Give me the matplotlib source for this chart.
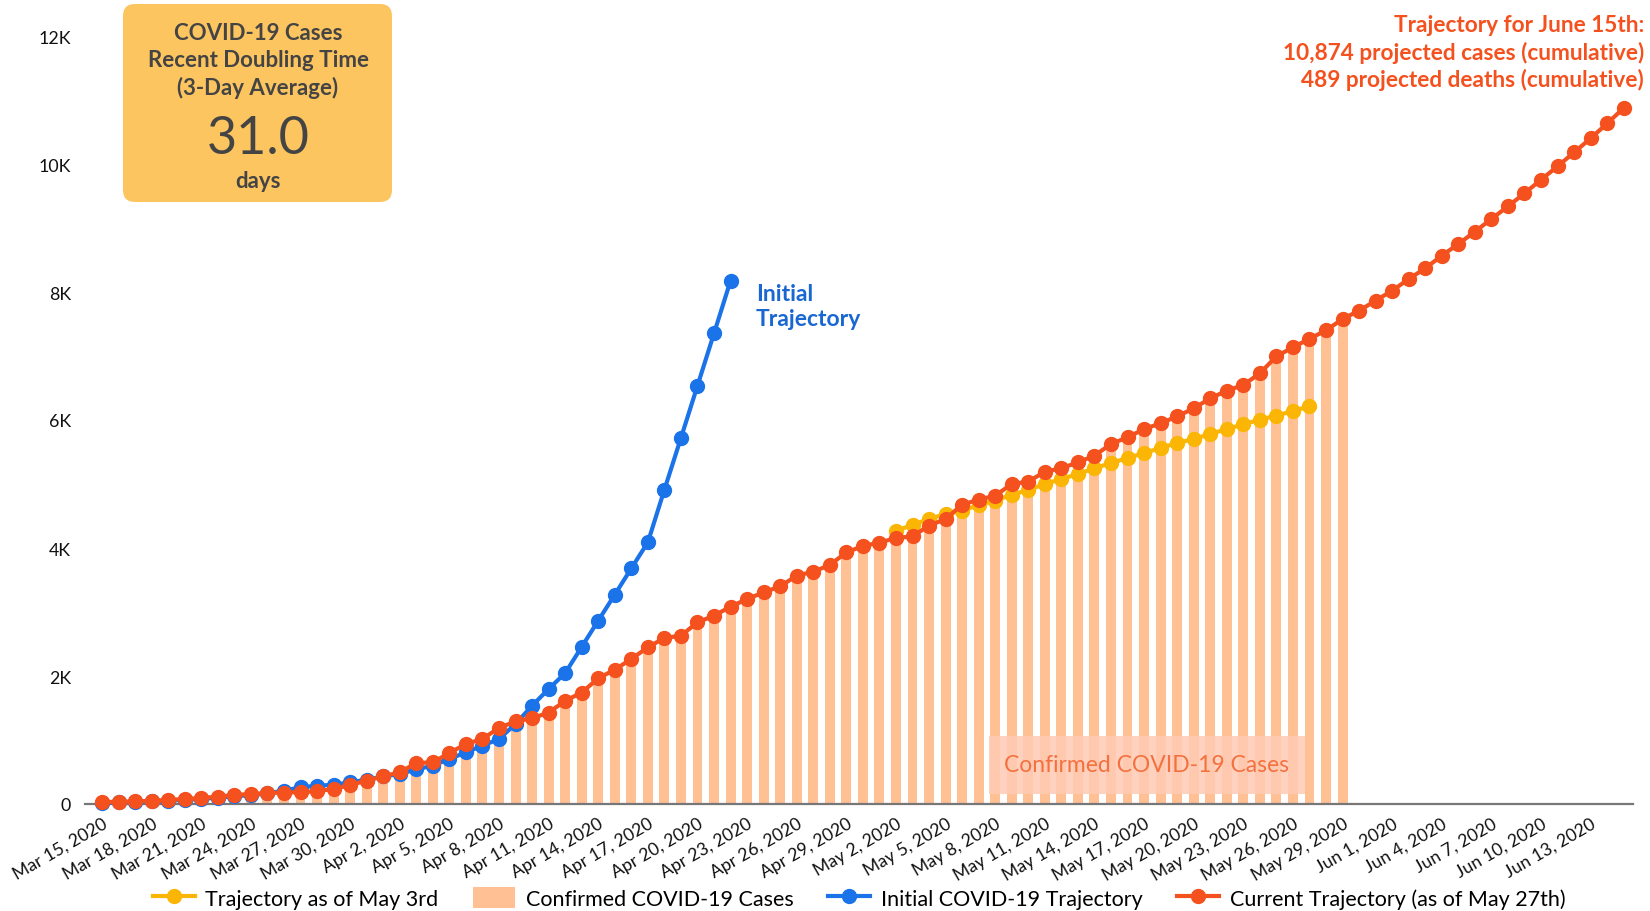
import matplotlib
matplotlib.use("Agg")
import matplotlib.pyplot as plt
from matplotlib.patches import FancyBboxPatch, Patch, Rectangle
from matplotlib.lines import Line2D
import pandas as pd

plt.rcParams['font.family'] = ['Lato', 'DejaVu Sans']

# ---------------- data ----------------
start_date = "2020-03-15"

current_traj = [30, 35, 40, 50, 63, 78, 94, 115, 141, 156,
                172, 178, 185, 200, 234, 297, 365, 432, 495, 641,
                651, 797, 938, 1016, 1190, 1290, 1340, 1428, 1612, 1742,
                1964, 2099, 2266, 2448, 2594, 2630, 2839, 2943, 3083, 3203,
                3307, 3401, 3568, 3630, 3734, 3932, 4030, 4085, 4156, 4182,
                4349, 4453, 4677, 4755, 4818, 5000, 5036, 5193, 5245, 5339,
                5443, 5625, 5729, 5859, 5948, 6057, 6182, 6339, 6458, 6547,
                6729, 6995, 7135, 7270, 7400, 7578, 7708, 7865, 8021, 8203,
                8370, 8568, 8750, 8943, 9141, 9339, 9542, 9755, 9964, 10182,
                10401, 10635, 10874]

confirmed = [30, 35, 40, 50, 63, 78, 94, 115, 141, 156,
             172, 178, 185, 200, 234, 297, 365, 432, 495, 641,
             651, 797, 938, 1016, 1190, 1290, 1340, 1428, 1612, 1742,
             1964, 2099, 2266, 2448, 2594, 2630, 2839, 2943, 3083, 3203,
             3307, 3401, 3568, 3630, 3734, 3932, 4030, 4085, 4156, 4182,
             4349, 4453, 4677, 4755, 4818, 5000, 5036, 5193, 5245, 5339,
             5443, 5625, 5729, 5859, 5948, 6057, 6182, 6339, 6458, 6547,
             6729, 6995, 7135, 7270, 7400, 7578]

initial_traj = [20, 25, 32, 42, 52, 65, 80, 98, 120, 140,
                165, 210, 260, 286, 300, 339, 380, 430, 469, 540,
                600, 703, 807, 911, 1016, 1250, 1536, 1797, 2045, 2455,
                2865, 3271, 3682, 4089, 4911, 5719, 6536, 7354, 8177]

may3_start = "2020-05-02"
may3_traj = [4271, 4359, 4453, 4531, 4583, 4672, 4740, 4833, 4906, 5000,
             5078, 5156, 5245, 5328, 5406, 5484, 5563, 5641, 5703, 5781,
             5859, 5932, 6005, 6068, 6141, 6214]

y_ticks = [0, 2000, 4000, 6000, 8000, 10000, 12000]
y_tick_labels = ["0", "2K", "4K", "6K", "8K", "10K", "12K"]

box_lines = ["COVID-19 Cases", "Recent Doubling Time", "(3-Day Average)"]
box_value = "31.0"
box_unit = "days"

note_lines = ["Trajectory for June 15th:",
              "10,874 projected cases (cumulative)",
              "489 projected deaths (cumulative)"]

legend_labels = ["Trajectory as of May 3rd", "Confirmed COVID-19 Cases",
                 "Initial COVID-19 Trajectory", "Current Trajectory (as of May 27th)"]

# ---------------- colours ----------------
C_ORANGE = "#F4511E"
C_BLUE = "#1A73E8"
C_YELLOW = "#FBB605"
C_BAR = "#FFC093"
C_BOX = "#FDC55F"
C_TEXT = "#444444"

W, H = 1650, 912
fig = plt.figure(figsize=(W / 100, H / 100), dpi=100)


def fx(x):
    return x / W


def fy(y):
    return 1 - y / H


ax = fig.add_axes([fx(85), fy(805), fx(1633) - fx(85), fy(37) - fy(805)])

d_cur = pd.date_range(start_date, periods=len(current_traj), freq="D")
d_conf = pd.date_range(start_date, periods=len(confirmed), freq="D")
d_init = pd.date_range(start_date, periods=len(initial_traj), freq="D")
d_may3 = pd.date_range(may3_start, periods=len(may3_traj), freq="D")

ax.bar(d_conf, confirmed, width=0.6, color=C_BAR, zorder=1)
ax.plot(d_init, initial_traj, color=C_BLUE, lw=3, marker="o", ms=10,
        zorder=3, clip_on=False)
ax.plot(d_may3, may3_traj, color=C_YELLOW, lw=3, marker="o", ms=10,
        zorder=4, clip_on=False)
ax.plot(d_cur, current_traj, color=C_ORANGE, lw=3, marker="o", ms=10,
        zorder=5, clip_on=False)

x0 = pd.Timestamp(start_date) - pd.Timedelta(days=1.03)
x1 = pd.Timestamp(start_date) + pd.Timedelta(days=92.56)
ax.set_xlim(x0, x1)
ax.set_ylim(0, 12000)

for s in ["top", "right", "left"]:
    ax.spines[s].set_visible(False)
ax.spines["bottom"].set_color("#777777")
ax.spines["bottom"].set_linewidth(1.6)
ax.spines["bottom"].set_zorder(2)

ax.set_yticks(y_ticks)
ax.set_yticklabels(y_tick_labels, fontsize=12.8, color="#111111")
ax.tick_params(axis="y", length=0, pad=10)

tick_dates = pd.date_range(start_date, "2020-06-13", freq="3D")
ax.set_xticks(tick_dates)
ax.set_xticklabels([f"{d.strftime('%b')} {d.day}, {d.year}" for d in tick_dates],
                   rotation=30, ha="right", rotation_mode="anchor",
                   fontsize=12.7, color="#111111")
ax.tick_params(axis="x", length=0, pad=8)

# label box "Confirmed COVID-19 Cases"
fig.patches.append(Rectangle((fx(989), fy(795)), fx(1305) - fx(989), fy(737) - fy(795),
                             transform=fig.transFigure, facecolor="#FFCBB5",
                             alpha=0.85, edgecolor="none", zorder=6))
fig.text(fx(1147), fy(766), "Confirmed COVID-19 Cases", color="#F4703F",
         fontsize=16.5, ha="center", va="center", zorder=7)

# "Initial Trajectory" annotation
fig.text(fx(756), fy(307), "Initial\nTrajectory", color="#1967D2", fontsize=16.5,
         fontweight="bold", ha="left", va="center", linespacing=1.2)

# top-right note
for i, line in enumerate(note_lines):
    fig.text(fx(1644), fy(25.5 + 27.4 * i), line, color=C_ORANGE, fontsize=16.3,
             fontweight="bold", ha="right", va="center")

# doubling time box
bax = fig.add_axes([fx(123), fy(203), fx(392) - fx(123), fy(5) - fy(203)])
bax.set_xlim(0, 269)
bax.set_ylim(0, 198)
bax.axis("off")
bax.add_patch(FancyBboxPatch((0, 0), 269, 198,
                             boxstyle="round,pad=0,rounding_size=12",
                             facecolor=C_BOX, edgecolor="none"))
for i, line in enumerate(box_lines):
    fig.text(fx(258), fy(33.5 + 27.4 * i), line, color=C_TEXT, fontsize=16,
             fontweight="bold", ha="center", va="center")
fig.text(fx(258), fy(139), box_value, color=C_TEXT, fontsize=37.5,
         ha="center", va="center")
fig.text(fx(258), fy(182), box_unit, color=C_TEXT, fontsize=16,
         fontweight="bold", ha="center", va="center")

# legend
handles = [
    Line2D([0], [0], color=C_YELLOW, lw=3, marker="o", ms=10),
    Patch(facecolor=C_BAR, edgecolor="none"),
    Line2D([0], [0], color=C_BLUE, lw=3, marker="o", ms=10),
    Line2D([0], [0], color=C_ORANGE, lw=3, marker="o", ms=10),
]
fig.legend(handles, legend_labels, loc="center", bbox_to_anchor=(fx(859), fy(899)),
           ncol=4, frameon=False, fontsize=15.5, handlelength=1.95,
           handleheight=1.1, handletextpad=0.5, columnspacing=1.6,
           borderaxespad=0)

fig.savefig("out.png", dpi=100)
